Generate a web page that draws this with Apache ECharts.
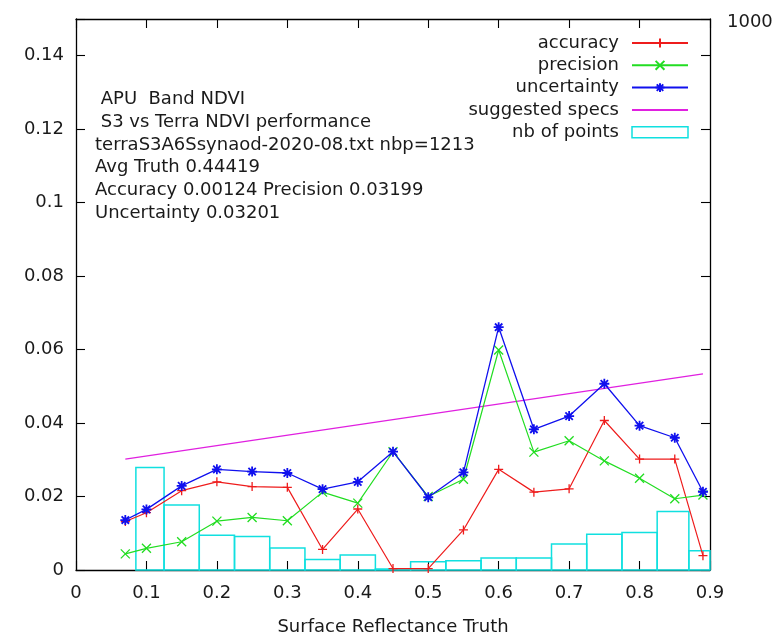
<!DOCTYPE html>
<html>
<head>
<meta charset="utf-8">
<script src="https://cdn.jsdelivr.net/npm/echarts@6/dist/echarts.min.js"></script>
<style>
html,body{margin:0;padding:0;background:#fff;}
#chart{width:777px;height:638px;}
</style>
</head>
<body>
<div id="chart"></div>
<script>
// ---- data ----
var truthX = [0.07, 0.10, 0.15, 0.20, 0.25, 0.30, 0.35, 0.40, 0.45, 0.50, 0.55, 0.60, 0.65, 0.70, 0.75, 0.80, 0.85, 0.89];
var accuracy = [0.0132, 0.0156, 0.0216, 0.0240, 0.0227, 0.0225, 0.0056, 0.0166, 0.0004, 0.0004, 0.0109, 0.0274, 0.0212, 0.0221, 0.0407, 0.0302, 0.0302, 0.0039];
var precision = [0.0044, 0.0059, 0.0077, 0.0133, 0.0143, 0.0134, 0.0212, 0.0182, 0.0322, 0.0200, 0.0247, 0.0599, 0.0321, 0.0352, 0.0297, 0.0250, 0.0194, 0.0204];
var uncertainty = [0.0136, 0.0165, 0.0229, 0.0274, 0.0268, 0.0264, 0.0220, 0.0240, 0.0322, 0.0198, 0.0266, 0.0661, 0.0383, 0.0419, 0.0507, 0.0393, 0.0360, 0.0213];
var specX = [0.07, 0.89];
var specY = [0.0302, 0.0534];
var nbPoints = [0, 186, 118, 63, 61, 40, 19, 27, 2, 15, 17, 22, 22, 47, 65, 68, 106, 35];
var xTicks = [0, 0.1, 0.2, 0.3, 0.4, 0.5, 0.6, 0.7, 0.8, 0.9];
var yTicks = [0, 0.02, 0.04, 0.06, 0.08, 0.1, 0.12, 0.14];
var y2Label = 1000;
var infoLines = [
  ' APU  Band NDVI',
  ' S3 vs Terra NDVI performance',
  'terraS3A6Ssynaod-2020-08.txt nbp=1213',
  'Avg Truth 0.44419',
  'Accuracy 0.00124 Precision 0.03199',
  'Uncertainty 0.03201'
];
var names = ['accuracy', 'precision', 'uncertainty', 'suggested specs', 'nb of points'];

// ---- styles ----
var FONT = 'DejaVu Sans';
var FS = 18;
var TXT = '#1a1a1a';
var C_RED = '#ee1c1c', C_GREEN = '#22dd22', C_BLUE = '#1010ee', C_MAG = '#e020e0', C_CYAN = '#10e0e0';
var SYM_PLUS = 'path://M5,0L5,10M0,5L10,5';
var SYM_X = 'path://M0,0L10,10M10,0L0,10';
var SYM_STAR = 'path://M5,0L5,10M0,5L10,5M1.3,1.3L8.7,8.7M8.7,1.3L1.3,8.7';

function pairs(xs, ys) { return xs.map(function (x, i) { return [x, ys[i]]; }); }

// box edges: midpoints between neighbours (gnuplot autowidth boxes)
var boxData = truthX.map(function (x, i) {
  var prev = i > 0 ? truthX[i - 1] : x - (truthX[1] - x);
  var next = i < truthX.length - 1 ? truthX[i + 1] : x + (x - truthX[i - 1]);
  return [(prev + x) / 2, (x + next) / 2, nbPoints[i]];
});

var chart = echarts.init(document.getElementById('chart'));

var axisLineStyle = { color: '#000', width: 1.3 };
var tickStyle = { show: true, inside: true, length: 9, lineStyle: { color: '#000', width: 1.1 } };

var option = {
  backgroundColor: '#fff',
  animation: false,
  textStyle: { fontFamily: FONT },
  title: {
    text: infoLines.join('\n'),
    left: 95, top: 88, padding: 0,
    textStyle: { fontFamily: FONT, fontSize: FS, fontWeight: 'normal', color: TXT, lineHeight: 22.8 }
  },
  legend: {
    orient: 'vertical', right: 83, top: 29, align: 'right',
    itemWidth: 56, itemHeight: 11, itemGap: 4.3,
    textStyle: { fontFamily: FONT, fontSize: FS, color: TXT, padding: [0, 8, 0, 0] },
    data: [
      { name: names[0] }, { name: names[1] }, { name: names[2] },
      { name: names[3], itemStyle: { color: 'rgba(0,0,0,0)', borderWidth: 0, opacity: 0 } },
      { name: names[4], icon: 'rect', itemStyle: { color: 'rgba(0,0,0,0)', borderColor: C_CYAN, borderWidth: 1.5 } }
    ]
  },
  grid: { left: 76, right: 67, top: 19, bottom: 68, containLabel: false, outerBoundsMode: 'none' },
  xAxis: [{
    type: 'value', min: 0, max: 0.9, interval: 0.1, position: 'bottom',
    name: 'Surface Reflectance Truth', nameLocation: 'middle', nameGap: 48,
    nameTextStyle: { fontFamily: FONT, fontSize: FS, color: TXT },
    axisLine: { show: true, onZero: false, lineStyle: axisLineStyle },
    axisTick: tickStyle,
    axisLabel: { fontFamily: FONT, fontSize: FS, color: TXT, margin: 14,
      formatter: function (v) { var r = Math.round(v * 10) / 10; return xTicks.indexOf(r) >= 0 ? String(r) : ''; } },
    splitLine: { show: false }
  }, {
    type: 'value', min: 0, max: 0.9, interval: 0.1, position: 'top',
    axisLine: { show: true, onZero: false, lineStyle: axisLineStyle },
    axisTick: tickStyle,
    axisLabel: { show: false }, splitLine: { show: false }
  }],
  yAxis: [{
    type: 'value', min: 0, max: 0.15, interval: 0.02, position: 'left',
    axisLine: { show: true, onZero: false, lineStyle: axisLineStyle },
    axisTick: tickStyle,
    axisLabel: { fontFamily: FONT, fontSize: FS, color: TXT, margin: 12,
      formatter: function (v) { var r = Math.round(v * 100) / 100; return yTicks.indexOf(r) >= 0 ? String(r) : ''; } },
    splitLine: { show: false }
  }, {
    type: 'value', min: 0, max: 0.15, interval: 0.02, position: 'right',
    axisLine: { show: true, onZero: false, lineStyle: axisLineStyle },
    axisTick: tickStyle,
    axisLabel: { show: false }, splitLine: { show: false }
  }, {
    type: 'value', min: 0, max: 1000, interval: 1000, position: 'right',
    axisLine: { show: false, onZero: false }, axisTick: { show: false }, splitLine: { show: false },
    axisLabel: { fontFamily: FONT, fontSize: FS, color: TXT, margin: 17, verticalAlign: 'middle',
      rich: { a: { fontFamily: FONT, fontSize: FS, color: TXT, padding: [6, 0, 0, 0] } },
      formatter: function (v) { return v === y2Label ? '{a|' + y2Label + '}' : ''; } }
  }],
  series: [{
    name: names[4], type: 'custom', xAxisIndex: 0, yAxisIndex: 2, z: 1,
    data: boxData,
    renderItem: function (params, api) {
      var h = api.value(2);
      if (!h) return null;
      var p0 = api.coord([api.value(0), h]);
      var p1 = api.coord([api.value(1), 0]);
      var cs = params.coordSys;
      var rect = echarts.graphic.clipRectByRect(
        { x: p0[0], y: p0[1], width: p1[0] - p0[0], height: p1[1] - p0[1] },
        { x: cs.x, y: cs.y, width: cs.width, height: cs.height + 2 });
      if (!rect) return null;
      return { type: 'rect', shape: rect, style: { fill: 'none', stroke: C_CYAN, lineWidth: 1.5 } };
    }
  }, {
    name: names[3], type: 'line', data: pairs(specX, specY), symbol: 'none', z: 3,
    lineStyle: { color: C_MAG, width: 1.3 }, itemStyle: { color: C_MAG }
  }, {
    name: names[0], type: 'line', data: pairs(truthX, accuracy), z: 4,
    symbol: SYM_PLUS, symbolSize: 9, showSymbol: true,
    lineStyle: { color: C_RED, width: 1.2 },
    itemStyle: { color: 'rgba(0,0,0,0)', borderColor: C_RED, borderWidth: 1.3 }
  }, {
    name: names[1], type: 'line', data: pairs(truthX, precision), z: 5,
    symbol: SYM_X, symbolSize: 9, showSymbol: true,
    lineStyle: { color: C_GREEN, width: 1.2 },
    itemStyle: { color: 'rgba(0,0,0,0)', borderColor: C_GREEN, borderWidth: 1.3 }
  }, {
    name: names[2], type: 'line', data: pairs(truthX, uncertainty), z: 6,
    symbol: SYM_STAR, symbolSize: 10, showSymbol: true,
    lineStyle: { color: C_BLUE, width: 1.3 },
    itemStyle: { color: 'rgba(0,0,0,0)', borderColor: C_BLUE, borderWidth: 1.8 }
  }]
};
chart.setOption(option);
</script>
</body>
</html>
